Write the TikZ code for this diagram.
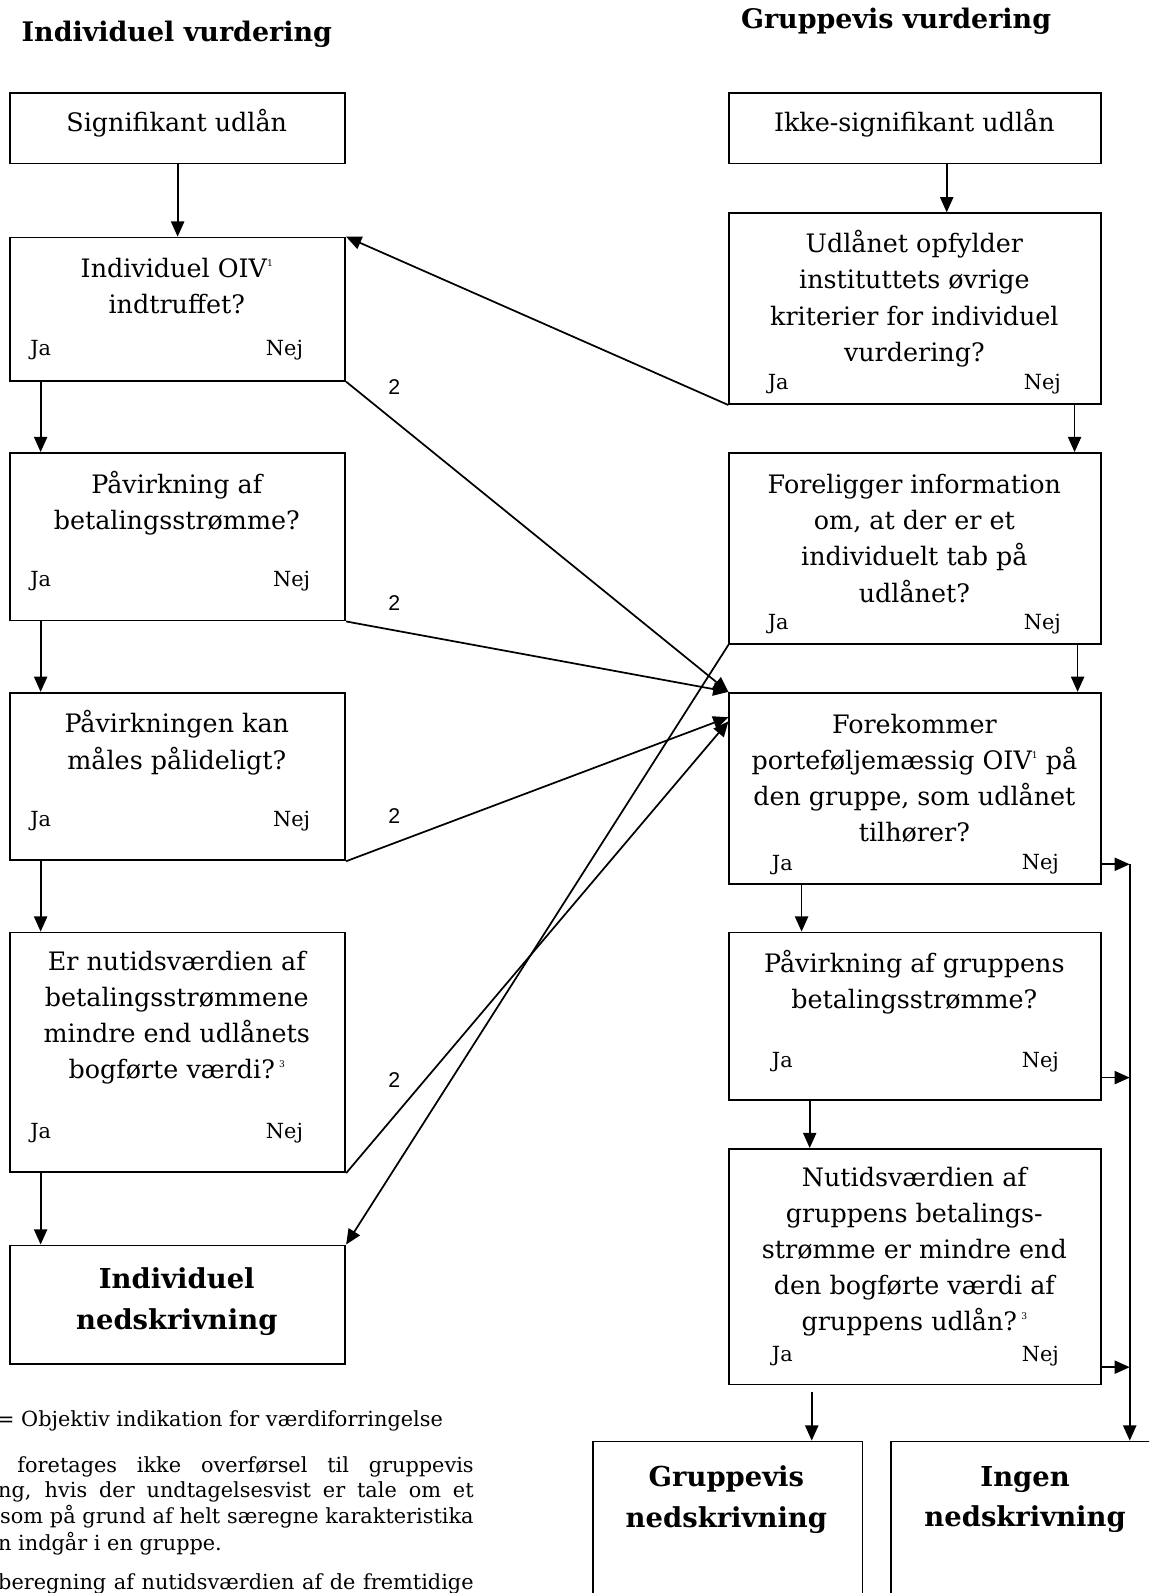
\documentclass[tikz,border=0pt]{standalone}
\usepackage{fontspec}
\setmainfont{DejaVu Serif}
\newfontfamily\sansfont{Liberation Sans}
\usetikzlibrary{arrows.meta}
\newcommand\supnum[1]{\raisebox{0.85ex}{\fontsize{9}{9}\selectfont #1}}
\begin{document}
\begin{tikzpicture}[x=1pt,y=-1pt,
  box/.style={draw, line width=1.7pt, anchor=north west, inner sep=0pt, minimum width=330pt},
  rbox/.style={box, minimum width=366pt},
  txt/.style={font=\fontsize{25}{35.5}\selectfont, align=center, inner sep=0pt},
  yn/.style={font=\fontsize{20.5}{22}\selectfont, inner sep=0pt},
  hd/.style={font=\bfseries\fontsize{26.5}{40}\selectfont, align=center, inner sep=0pt},
  big/.style={hd, font=\bfseries\fontsize{27}{40}\selectfont},
  num/.style={font=\sansfont\fontsize{21}{22}\selectfont, inner sep=0pt},
  fn/.style={font=\fontsize{20.5}{22}\selectfont, inner sep=0pt, anchor=west},
  arr/.style={line width=1.7pt, -{Triangle[length=15pt,width=13pt]}}]
\useasboundingbox (0,0) rectangle (1131,1568);
\clip (0,0) rectangle (1131,1568);

% column headings
\node[hd] (h1) at (174,34) {Individuel vurdering};
\node[hd] (h2) at (882,21) {Gruppevis vurdering};

% left column: individual assessment
\node[box, minimum height=69pt]  (A) at (9,91) {};
\node[box, minimum height=141pt] (B) at (9,233) {};
\node[box, minimum height=165pt] (C) at (9,445) {};
\node[box, minimum height=165pt] (D) at (9,681) {};
\node[box, minimum height=236pt] (E) at (9,917) {};
\node[box, minimum height=117pt] (F) at (9,1225) {};

\node[txt] (At) at (174,121) {Signifikant udlån};
\node[txt] (Bt) at (174,282) {Individuel OIV\supnum{1}\\indtruffet?};
\node[txt] (Ct) at (174,495) {Påvirkning af\\betalingsstrømme?};
\node[txt] (Dt) at (174,731) {Påvirkningen kan\\måles pålideligt?};
\node[txt] (Et) at (174,1002) {Er nutidsværdien af\\betalingsstrømmene\\mindre end udlånets\\bogførte værdi?\,\supnum{3}};
\node[big] (Ft) at (174,1281) {Individuel\\nedskrivning};

\node[yn] (Bja) at (40,345) {Ja};  \node[yn] (Bnej) at (280,345) {Nej};
\node[yn] (Cja) at (40,572) {Ja};  \node[yn] (Cnej) at (287,572) {Nej};
\node[yn] (Dja) at (40,808) {Ja};  \node[yn] (Dnej) at (287,808) {Nej};
\node[yn] (Eja) at (40,1115) {Ja}; \node[yn] (Enej) at (280,1115) {Nej};

% right column: group assessment
\node[rbox, minimum height=69pt]  (G) at (717,91) {};
\node[rbox, minimum height=188pt] (H) at (717,209) {};
\node[rbox, minimum height=188pt] (I) at (717,445) {};
\node[rbox, minimum height=188pt] (J) at (717,681) {};
\node[rbox, minimum height=165pt] (K) at (717,917) {};
\node[rbox, minimum height=232pt] (L) at (717,1130) {};
\node[box, minimum width=265pt, minimum height=220pt] (M) at (583,1418) {};
\node[box, minimum width=266pt, minimum height=220pt] (N) at (876,1418) {};

\node[txt] (Gt) at (900,121) {Ikke-signifikant udlån};
\node[txt] (Ht) at (900,294) {Udlånet opfylder\\instituttets øvrige\\kriterier for individuel\\vurdering?};
\node[txt] (It) at (900,530) {Foreligger information\\om, at der er et\\individuelt tab på\\udlånet?};
\node[txt] (Jt) at (900,766) {Forekommer\\porteføljemæssig OIV\supnum{1} på\\den gruppe, som udlånet\\tilhører?};
\node[txt] (Kt) at (900,967) {Påvirkning af gruppens\\betalingsstrømme?};
\node[txt] (Lt) at (900,1232) {Nutidsværdien af\\gruppens betalings-\\strømme er mindre end\\den bogførte værdi af\\gruppens udlån?\,\supnum{3}};
\node[big] (Mt) at (715,1476) {Gruppevis\\nedskrivning};
\node[big] (Nt) at (1009,1476) {Ingen\\nedskrivning};

\node[yn] (Hja) at (766,378) {Ja};  \node[yn] (Hnej) at (1026,378) {Nej};
\node[yn] (Ija) at (766,614) {Ja};  \node[yn] (Inej) at (1026,614) {Nej};
\node[yn] (Jja) at (770,851) {Ja};  \node[yn] (Jnej) at (1024,851) {Nej};
\node[yn] (Kja) at (770,1045) {Ja}; \node[yn] (Knej) at (1024,1045) {Nej};
\node[yn] (Lja) at (770,1335) {Ja}; \node[yn] (Lnej) at (1024,1335) {Nej};

% vertical flow, left column
\draw[arr] (A.south) -- (B.north);
\draw[arr] ([xshift=31pt]B.south west) -- ([xshift=31pt]C.north west);
\draw[arr] ([xshift=31pt]C.south west) -- ([xshift=31pt]D.north west);
\draw[arr] ([xshift=31pt]D.south west) -- ([xshift=31pt]E.north west);
\draw[arr] ([xshift=31pt]E.south west) -- ([xshift=31pt]F.north west);

% vertical flow, right column
\draw[arr] ([xshift=31pt]G.south) -- ([xshift=31pt]H.north);
\draw[arr] ([xshift=-27pt]H.south east) -- ([xshift=-27pt]I.north east);
\draw[arr] ([xshift=-24pt]I.south east) -- ([xshift=-24pt]J.north east);
\draw[arr] ([xshift=72pt]J.south west) -- ([xshift=72pt]K.north west);
\draw[arr] ([xshift=80pt]K.south west) -- ([xshift=80pt]L.north west);
\draw[arr] ([xshift=82pt,yshift=-6pt]L.south west) -- ([xshift=216pt]M.north west);

% "Nej" exits into the collector line
\coordinate (bus) at ([xshift=236pt]N.north west);
\coordinate (Jx) at ([yshift=20pt]J.south east);
\coordinate (Kx) at ([yshift=23pt]K.south east);
\coordinate (Lx) at ([yshift=18pt]L.south east);
\draw[arr] (Jx) -- (Jx -| bus);
\draw[arr] (Kx) -- (Kx -| bus);
\draw[arr] (Lx) -- (Lx -| bus);
\draw[arr] (Jx -| bus) -- (bus);

% cross connections
\draw[arr] (H.south west) -- (B.north east);
\draw[arr] (B.south east) -- (J.north west);
\draw[arr] (C.south east) -- (J.north west);
\draw[arr] (D.south east) -- ([yshift=-25pt]J.north west);
\draw[arr] (E.south east) -- ([yshift=-29pt]J.north west);
\draw[arr] (I.south west) -- (F.north east);

\node[num] (n1) at (388,381) {2};
\node[num] (n2) at (388,594) {2};
\node[num] (n3) at (388,803) {2};
\node[num] (n4) at (388,1063) {2};

% notes below the left column
\node[fn] (f1) at (-3,1399) {= Objektiv indikation for værdiforringelse};
\node[fn] (f2) at (17,1444) {\makebox[449pt][s]{foretages ikke overførsel til gruppevis}};
\node[fn] (f3) at (-2,1468) {\makebox[468pt][s]{ng, hvis der undtagelsesvist er tale om et}};
\node[fn] (f4) at (0,1493) {\makebox[466pt][s]{som på grund af helt særegne karakteristika}};
\node[fn] (f5) at (-2,1519) {n indgår i en gruppe.};
\node[fn] (f6) at (-2,1559) {\makebox[468pt][s]{beregning af nutidsværdien af de fremtidige}};
\end{tikzpicture}
\end{document}
